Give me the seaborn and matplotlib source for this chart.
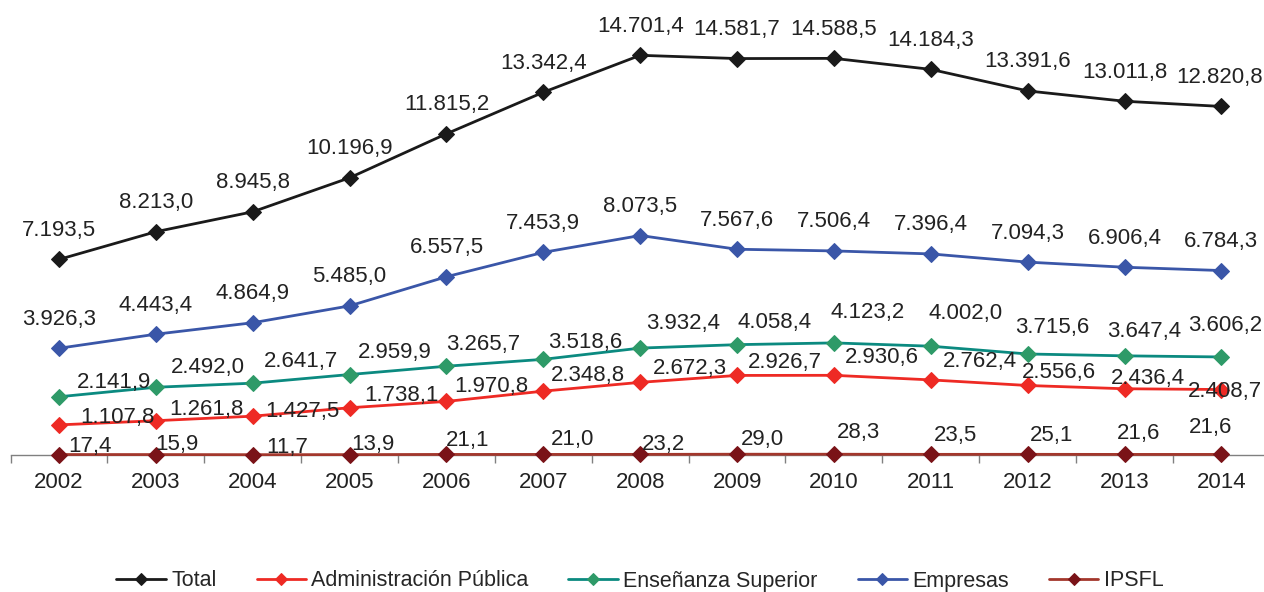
import matplotlib
matplotlib.use("Agg")
import matplotlib.pyplot as plt
import seaborn as sns
import numpy as np

years = ["2002", "2003", "2004", "2005", "2006", "2007", "2008",
         "2009", "2010", "2011", "2012", "2013", "2014"]
total = [7193.5, 8213.0, 8945.8, 10196.9, 11815.2, 13342.4, 14701.4,
         14581.7, 14588.5, 14184.3, 13391.6, 13011.8, 12820.8]
admin = [1107.8, 1261.8, 1427.5, 1738.1, 1970.8, 2348.8, 2672.3,
         2926.7, 2930.6, 2762.4, 2556.6, 2436.4, 2408.7]
ensen = [2141.9, 2492.0, 2641.7, 2959.9, 3265.7, 3518.6, 3932.4,
         4058.4, 4123.2, 4002.0, 3715.6, 3647.4, 3606.2]
empresas = [3926.3, 4443.4, 4864.9, 5485.0, 6557.5, 7453.9, 8073.5,
            7567.6, 7506.4, 7396.4, 7094.3, 6906.4, 6784.3]
ipsfl = [17.4, 15.9, 11.7, 13.9, 21.1, 21.0, 23.2,
         29.0, 28.3, 23.5, 25.1, 21.6, 21.6]
series_names = ["Total", "Administración Pública", "Enseñanza Superior",
                "Empresas", "IPSFL"]


def fmt(v):
    s = f"{v:,.1f}"
    return s.replace(",", "X").replace(".", ",").replace("X", ".")


sns.set_theme(style="white")
plt.rcParams["font.family"] = ["Liberation Sans", "DejaVu Sans"]

fig = plt.figure(figsize=(12.64, 5.92), dpi=100)
ax = fig.add_axes([10.6 / 1264, 1 - 455 / 592, (1264 - 10.6) / 1264, 435 / 592])

x = np.arange(len(years))

styles = [
    (total, "#1a1a1a", "#1a1a1a"),
    (admin, "#ee2a24", "#ee2a24"),
    (ensen, "#0b8a80", "#2e9a68"),
    (empresas, "#3a56a8", "#3a56a8"),
    (ipsfl, "#a3372c", "#7a1318"),
]

# label offsets in pixels (dx, dy)
off_total = [(0, 29)] * 12 + [(-2, 29)]
off_emp = [(0, 29)] * 13
off_ens = [(55, 14), (52, 20), (48, 22), (45, 22), (37, 22), (42, 17), (43, 25),
           (37, 22), (34, 30), (35, 33), (25, 26), (20, 24), (4, 31)]
off_adm = [(58, 7), (51, 11), (50, 5), (52, 12), (45, 15), (45, 16), (50, 14),
           (48, 13), (48, 18), (49, 18), (31, 13), (23, 10), (4, -2)]
off_ips = [(31, 8), (21, 10), (34, 7), (23, 10), (21, 14), (29, 15), (23, 10),
           (25, 15), (25, 22), (25, 19), (24, 19), (14, 21), (-11, 27)]
offsets = [off_total, off_adm, off_ens, off_emp, off_ips]

for (vals, lc, mc), name in zip(styles, series_names):
    sns.lineplot(x=x, y=vals, ax=ax, color=lc, linewidth=2.0, marker="D",
                 markersize=8, markerfacecolor=mc, markeredgecolor=mc,
                 label=name, clip_on=False, zorder=3)
for (vals, lc, mc), offs in zip(styles, offsets):
    for xi, v, (dx, dy) in zip(x, vals, offs):
        ax.annotate(fmt(v), (xi, v), xytext=(dx, dy), textcoords="offset pixels",
                    ha="center", va="center", fontsize=16, color="#222222",
                    zorder=4)

ax.set_xlim(-0.5, 12.44)
ax.set_ylim(0, 16000)
ax.set_yticks([])
for s in ["top", "right", "left"]:
    ax.spines[s].set_visible(False)
ax.spines["bottom"].set_color("#808080")
ax.spines["bottom"].set_linewidth(1.0)
ax.spines["bottom"].set_zorder(1)
ax.set_xticks(x)
ax.set_xticklabels(years, fontsize=16, color="#222222")
ax.set_xticks(np.arange(-0.5, 12.5, 1.0), minor=True)
ax.tick_params(axis="x", which="major", length=0, pad=12)
ax.tick_params(axis="x", which="minor", length=6, width=1, color="#808080",
               direction="out", bottom=True)

handles, labels = ax.get_legend_handles_labels()
leg = ax.legend(handles, labels, loc="center", ncol=5, frameon=False,
                fontsize=15.5, handlelength=2.3, columnspacing=1.85,
                handletextpad=0.25, markerscale=0.8)
leg.set_bbox_to_anchor((0.5 + 8 / 1264, 1 - 581 / 592), transform=fig.transFigure)

fig.savefig("out.png", dpi=100)
